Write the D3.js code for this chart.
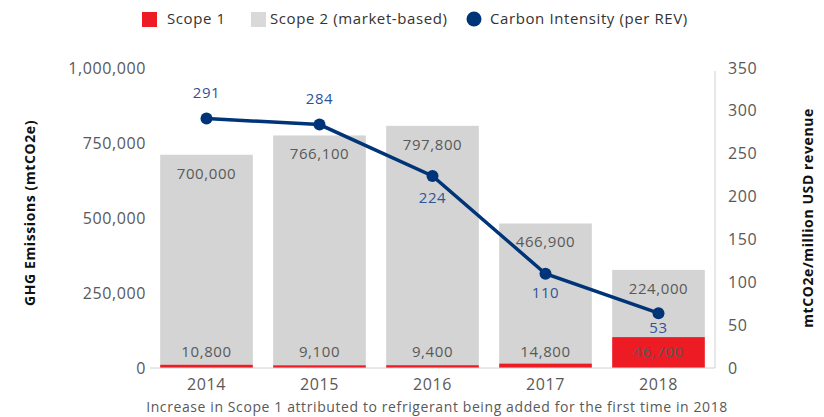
<!DOCTYPE html>
<html>
<head>
<meta charset="utf-8">
<script src="https://cdn.jsdelivr.net/npm/d3@7"></script>
<style>
  body { margin: 0; background: #fff; }
  text { font-family: "Open Sans", "DejaVu Sans", sans-serif; letter-spacing: 0.6px; }
</style>
</head>
<body>
<div id="chart"></div>
<script>
// data
var years = ["2014", "2015", "2016", "2017", "2018"];
var scope2 = [700000, 766100, 797800, 466900, 224000];
// the 2018 scope 1 bar is drawn taller than its printed label in the original
var scope1 = [10800, 9100, 9400, 14800, 103000];
var scope1Labels = ["10,800", "9,100", "9,400", "14,800", "46,700"];
var intensity = [291, 284, 224, 110, 64];
var intensityLabels = ["291", "284", "224", "110", "53"];
var leftTicks = [0, 250000, 500000, 750000, 1000000];
var rightTicks = [0, 50, 100, 150, 200, 250, 300, 350];

// label placement for the intensity values (above / below the marker)
var intensityDy = [-21, -21, 27, 24, 20];

var width = 824, height = 417;
var margin = { top: 68, right: 109, bottom: 49, left: 150 };

var svg = d3.select("#chart").append("svg")
  .attr("width", width)
  .attr("height", height);

var x = d3.scaleBand()
  .domain(years)
  .range([margin.left, width - margin.right])
  .paddingInner(0.18)
  .paddingOuter(0.09);

var y = d3.scaleLinear()
  .domain([0, 1000000])
  .range([height - margin.bottom, margin.top]);

var y2 = d3.scaleLinear()
  .domain([0, 350])
  .range([height - margin.bottom, margin.top]);

var red = "#ed1c24", grey = "#d4d4d4", navy = "#003478", textGrey = "#595959";

// bars
var rows = years.map((yr, i) => ({ year: yr, s1: scope1[i], s2: scope2[i] }));

svg.append("g").selectAll("rect")
  .data(rows)
  .enter().append("rect")
  .attr("x", d => x(d.year))
  .attr("width", x.bandwidth())
  .attr("y", d => y(d.s1 + d.s2))
  .attr("height", d => y(d.s1) - y(d.s1 + d.s2))
  .attr("fill", grey);

svg.append("g").selectAll("rect")
  .data(rows)
  .enter().append("rect")
  .attr("x", d => x(d.year))
  .attr("width", x.bandwidth())
  .attr("y", d => y(d.s1))
  .attr("height", d => y(0) - y(d.s1))
  .attr("fill", red);

// baseline + right axis line
svg.append("line")
  .attr("x1", margin.left).attr("x2", width - margin.right)
  .attr("y1", y(0)).attr("y2", y(0))
  .attr("stroke", "#d0d0d0").attr("stroke-width", 1);
svg.append("line")
  .attr("x1", width - margin.right).attr("x2", width - margin.right)
  .attr("y1", y2(350) + 3).attr("y2", y(0))
  .attr("stroke", "#d0d0d0").attr("stroke-width", 1);

// bar labels
svg.append("g").selectAll("text")
  .data(rows)
  .enter().append("text")
  .attr("x", d => x(d.year) + x.bandwidth() / 2)
  .attr("y", d => y(d.s1 + d.s2) + 24)
  .attr("text-anchor", "middle")
  .attr("font-size", 15)
  .attr("fill", textGrey)
  .text(d => d3.format(",")(d.s2));

svg.append("g").selectAll("text")
  .data(rows)
  .enter().append("text")
  .attr("x", d => x(d.year) + x.bandwidth() / 2)
  .attr("y", y(0) - 11)
  .attr("text-anchor", "middle")
  .attr("font-size", 15)
  .attr("fill", textGrey)
  .text((d, i) => scope1Labels[i]);

// intensity line
var pts = years.map((yr, i) => ({ year: yr, v: intensity[i], label: intensityLabels[i] }));
var line = d3.line()
  .x(d => x(d.year) + x.bandwidth() / 2)
  .y(d => y2(d.v));

svg.append("path")
  .datum(pts)
  .attr("d", line)
  .attr("fill", "none")
  .attr("stroke", navy)
  .attr("stroke-width", 3.5);

svg.append("g").selectAll("circle")
  .data(pts)
  .enter().append("circle")
  .attr("cx", d => x(d.year) + x.bandwidth() / 2)
  .attr("cy", d => y2(d.v))
  .attr("r", 6)
  .attr("fill", navy);

svg.append("g").selectAll("text")
  .data(pts)
  .enter().append("text")
  .attr("x", d => x(d.year) + x.bandwidth() / 2)
  .attr("y", (d, i) => y2(d.v) + intensityDy[i])
  .attr("text-anchor", "middle")
  .attr("font-size", 15)
  .attr("fill", "#2f5496")
  .text(d => d.label);

// axes
var leftAxis = svg.append("g")
  .attr("transform", "translate(" + (margin.left - 4) + ",0)")
  .call(d3.axisLeft(y).tickValues(leftTicks).tickSize(0).tickPadding(0).tickFormat(d3.format(",")));
var rightAxis = svg.append("g")
  .attr("transform", "translate(" + (width - margin.right + 13) + ",0)")
  .call(d3.axisRight(y2).tickValues(rightTicks).tickSize(0).tickPadding(0));
var bottomAxis = svg.append("g")
  .attr("transform", "translate(0," + (y(0) + 7) + ")")
  .call(d3.axisBottom(x).tickSize(0).tickPadding(4));

[leftAxis, rightAxis, bottomAxis].forEach(a => {
  a.select(".domain").remove();
  a.selectAll("text")
    .attr("font-size", 16)
    .attr("fill", textGrey)
    .style("font-family", "'Open Sans', sans-serif");
});

// axis titles
svg.append("text")
  .attr("transform", "translate(35,213) rotate(-90)")
  .attr("text-anchor", "middle")
  .attr("font-size", 14)
  .attr("font-weight", "bold")
  .attr("fill", "#111")
  .text("GHG Emissions (mtCO2e)");

svg.append("text")
  .attr("transform", "translate(813,218) rotate(-90)")
  .attr("text-anchor", "middle")
  .attr("font-size", 14)
  .attr("font-weight", "bold")
  .attr("fill", "#111")
  .text("mtCO2e/million USD revenue");

// footnote
svg.append("text")
  .attr("x", 437)
  .attr("y", 412)
  .attr("text-anchor", "middle")
  .attr("font-size", 14)
  .attr("fill", textGrey)
  .text("Increase in Scope 1 attributed to refrigerant being added for the first time in 2018");

// legend
var legend = svg.append("g");
legend.append("rect").attr("x", 142).attr("y", 12).attr("width", 15).attr("height", 15).attr("fill", red);
legend.append("text").attr("x", 167).attr("y", 24).attr("font-size", 15).attr("fill", "#333").text("Scope 1");
legend.append("rect").attr("x", 251).attr("y", 12).attr("width", 15).attr("height", 15).attr("fill", "#d9d9d9");
legend.append("text").attr("x", 270).attr("y", 24).attr("font-size", 15).attr("fill", "#333").text("Scope 2 (market-based)");
legend.append("circle").attr("cx", 474).attr("cy", 19).attr("r", 7.5).attr("fill", navy);
legend.append("text").attr("x", 490).attr("y", 24).attr("font-size", 15).attr("fill", "#333").text("Carbon Intensity (per REV)");
</script>
</body>
</html>
